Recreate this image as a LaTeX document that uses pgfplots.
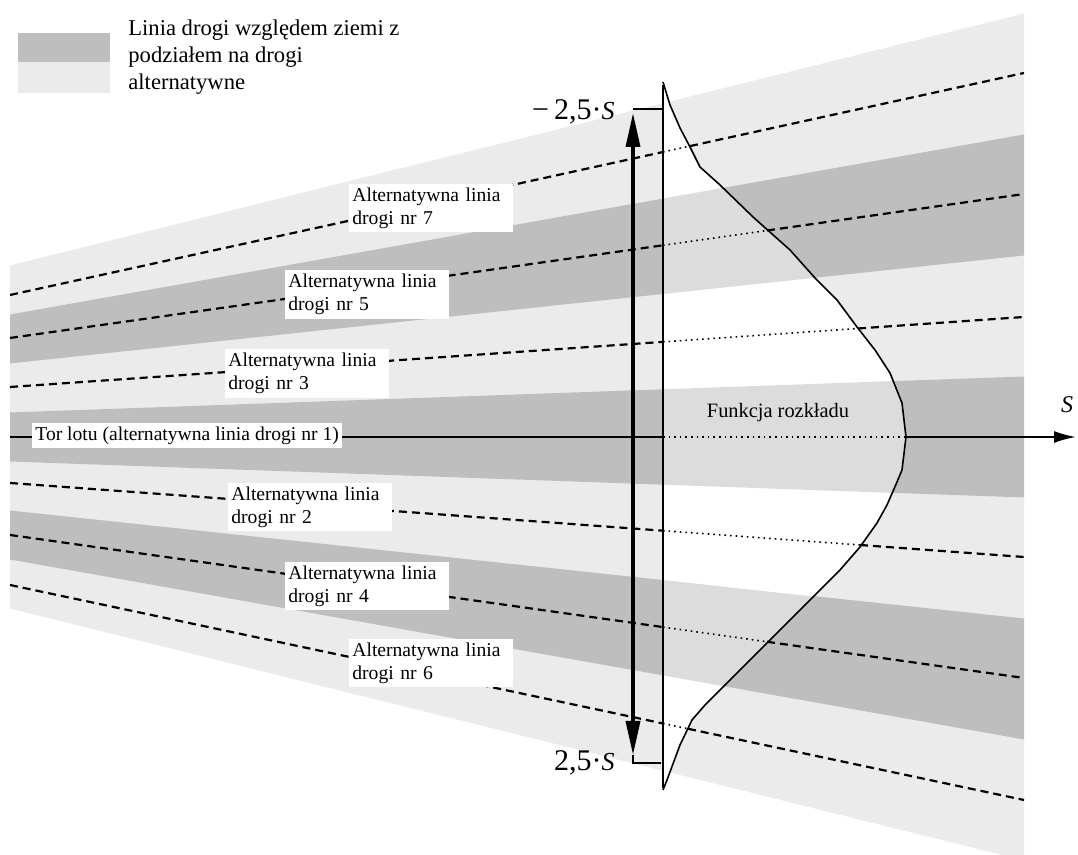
\documentclass[border=0pt]{standalone}
\usepackage{fontspec}
\setmainfont{Liberation Serif}
\usepackage{pgfplots}
\pgfplotsset{compat=1.18}
\usetikzlibrary{arrows.meta}
\definecolor{bandDark}{HTML}{BEBEBE}
\definecolor{bandLight}{HTML}{EBEBEB}
\definecolor{bandMid}{HTML}{DCDCDC}
\begin{document}
\begin{tikzpicture}[
  lblbase/.style={fill=white, anchor=west, align=left,
    inner xsep=1.5pt, inner ysep=2pt,
    font=\fontsize{9.8}{11.5}\selectfont},
  lbl/.style={lblbase, text width=79pt},
  dsh/.style={black, line width=1.1pt, dash pattern=on 4pt off 2.5pt},
  dtt/.style={black, line width=0.8pt, dash pattern=on 0.8pt off 2pt},
]
\begin{axis}[
  scale only axis, width=539pt, height=427.5pt,
  xmin=0, xmax=1078, ymin=-418, ymax=437,
  enlargelimits=false,
  axis lines=none, xtick=\empty, ytick=\empty,
  clip=true,
]
% ---- fan of bands ----
\addplot[fill=bandLight, draw=none] coordinates {(10,171.5) (1024,423.5) (1024,-418) (1002,-418) (10,-171.5)} -- cycle;
\addplot[fill=bandDark, draw=none] coordinates {(10,24.5) (1024,60.5) (1024,-60.5) (10,-24.5)} -- cycle;
\addplot[fill=bandDark, draw=none] coordinates {(10,73.5) (1024,181.5) (1024,302.5) (10,122.5)} -- cycle;
\addplot[fill=bandDark, draw=none] coordinates {(10,-73.5) (1024,-181.5) (1024,-302.5) (10,-122.5)} -- cycle;
% ---- area under distribution function (lightened) ----
\addplot[fill=white, draw=none] coordinates {
 (663,355) (670,332) (680,309) (690,290) (700,270) (720,252) (753,220) (790,187)
 (815,159) (837,137) (857,110) (875,87) (890,64) (902,34) (906,0) (902,-33) (897,-45)
 (887,-68) (877,-86) (860,-110) (840,-133) (817,-156) (790,-183) (767,-206) (745,-228)
 (723,-250) (705,-268) (692,-283) (680,-308) (667,-343) (663,-353)} -- cycle;
\addplot[fill=bandMid, draw=none] coordinates {(663,47.7) (893,55.9) (902,34) (906,0) (902,-33) (897,-45) (892,-55.9) (663,-47.7)} -- cycle;
\addplot[fill=bandMid, draw=none] coordinates {(663,143.0) (815,159.2) (790,187) (753,220) (723,249.1) (663,238.4)} -- cycle;
\addplot[fill=bandMid, draw=none] coordinates {(663,-143.0) (814,-159.7) (790,-183) (767,-206) (745,-228) (723,-249.1) (663,-238.4)} -- cycle;
% ---- legend swatches ----
\addplot[fill=bandDark, draw=none] coordinates {(18,404) (110,404) (110,375) (18,375)} -- cycle;
\addplot[fill=bandLight, draw=none] coordinates {(18,375) (110,375) (110,344) (18,344)} -- cycle;
% ---- alternative route lines ----
% nr 7
\addplot[dsh] coordinates {(10,142) (663,285.0)};
\addplot[dtt] coordinates {(663,285.0) (690,290.9)};
\addplot[dsh] coordinates {(690,290.9) (1024,364)};
% nr 5
\addplot[dsh] coordinates {(10,99) (663,191.7)};
\addplot[dtt] coordinates {(663,191.7) (767,206.5)};
\addplot[dsh] coordinates {(767,206.5) (1024,243)};
% nr 3
\addplot[dsh] coordinates {(10,50) (663,95.1)};
\addplot[dtt] coordinates {(663,95.1) (858,108.5)};
\addplot[dsh] coordinates {(858,108.5) (1024,120)};
% nr 2
\addplot[dsh] coordinates {(10,-46) (663,-93.7)};
\addplot[dtt] coordinates {(663,-93.7) (860,-108.0)};
\addplot[dsh] coordinates {(860,-108.0) (1024,-120)};
% nr 4
\addplot[dsh] coordinates {(10,-98) (663,-190.1)};
\addplot[dtt] coordinates {(663,-190.1) (767,-204.8)};
\addplot[dsh] coordinates {(767,-204.8) (1024,-241)};
% nr 6
\addplot[dsh] coordinates {(10,-148) (663,-286.5)};
\addplot[dtt] coordinates {(663,-286.5) (688,-291.8)};
\addplot[dsh] coordinates {(688,-291.8) (1024,-363)};
% nr 1 (flight path / s axis)
\addplot[black, line width=1pt] coordinates {(10,0) (663,0)};
\addplot[dtt] coordinates {(663,0) (906,0)};
\addplot[black, line width=1pt, -{Latex[length=11pt,width=6pt]}] coordinates {(906,0) (1076,0)};
% ---- distribution curve ----
\addplot[black, line width=0.8pt] coordinates {
 (663,355) (670,332) (680,309) (690,290) (700,270) (720,252) (753,220) (790,187)
 (815,159) (837,137) (857,110) (875,87) (890,64) (902,34) (906,0) (902,-33) (897,-45)
 (887,-68) (877,-86) (860,-110) (840,-133) (817,-156) (790,-183) (767,-206) (745,-228)
 (723,-250) (705,-268) (692,-283) (680,-308) (667,-343) (663,-353)};
% ---- vertical base line ----
\addplot[black, line width=1pt] coordinates {(663,352) (663,-351)};
% ---- +-2.5 S double arrow ----
\addplot[black, line width=1.8pt, {Triangle[length=17pt,width=7pt]}-{Triangle[length=17pt,width=7pt]}] coordinates {(633,324) (633,-318)};
\addplot[black, line width=1pt] coordinates {(633,328) (663,328)};
\addplot[black, line width=1pt] coordinates {(633,-318) (633,-326) (661,-326)};
% ---- labels ----
\node[lbl] at (349,229) {Alternatywna linia\\drogi nr 7};
\node[lbl] at (285,142.5) {Alternatywna linia\\drogi nr 5};
\node[lbl] at (225,63.5) {Alternatywna linia\\drogi nr 3};
\node[lblbase] at (32,1.5) {Tor lotu (alternatywna linia drogi nr 1)};
\node[lbl] at (228,-70) {Alternatywna linia\\drogi nr 2};
\node[lbl] at (285,-149) {Alternatywna linia\\drogi nr 4};
\node[lbl] at (349,-226) {Alternatywna linia\\drogi nr 6};
\node[font=\fontsize{10.2}{12}\selectfont] at (778,24) {Funkcja rozkładu};
\node[anchor=east, inner sep=0pt, font=\fontsize{15}{15}\selectfont] at (615,325) {−\,2,5·{\fontsize{13}{13}\selectfont\textit{S}}};
\node[anchor=east, inner sep=0pt, font=\fontsize{15}{15}\selectfont] at (615,-326) {2,5·{\fontsize{13}{13}\selectfont\textit{S}}};
\node[inner sep=0pt, font=\fontsize{12}{12}\selectfont\itshape] at (1067,32) {S};
\node[anchor=west, align=left, inner sep=0pt, font=\fontsize{11.3}{13.5}\selectfont] at (128,380) {Linia drogi względem ziemi z\\podziałem na drogi\\alternatywne};
\end{axis}
\pgfresetboundingbox
\path[use as bounding box] (current axis.south west) rectangle (current axis.north east);
\end{tikzpicture}
\end{document}
